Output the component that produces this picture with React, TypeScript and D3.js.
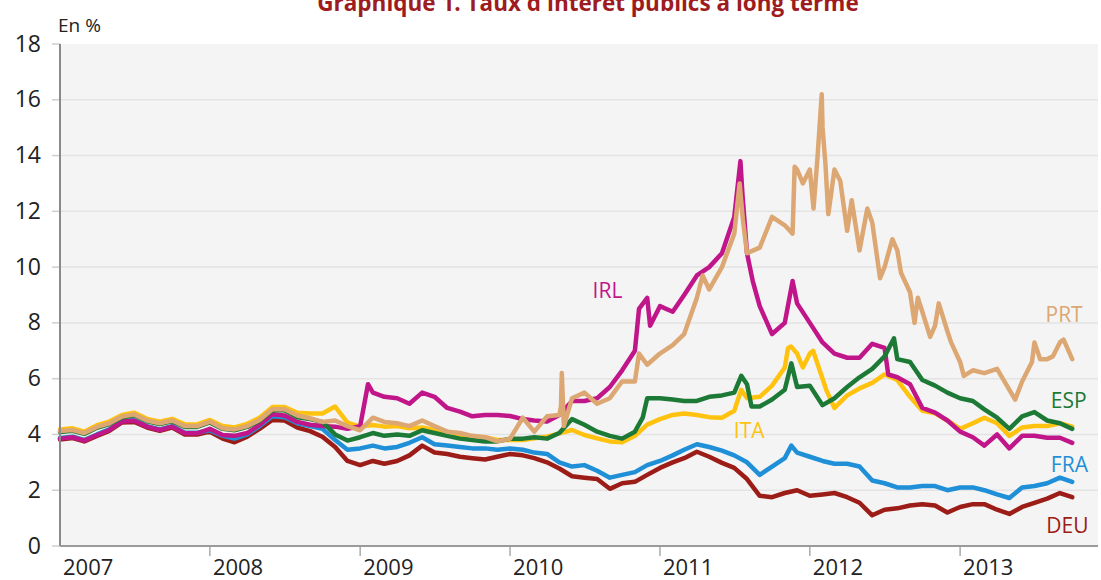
import * as d3 from "d3";

// monthly observation dates (first of the month)
const months = [
  "2007-01", "2007-02", "2007-03", "2007-04", "2007-05", "2007-06", "2007-07", "2007-08", "2007-09", "2007-10", "2007-11", "2007-12",
  "2008-01", "2008-02", "2008-03", "2008-04", "2008-05", "2008-06", "2008-07", "2008-08", "2008-09", "2008-10", "2008-11", "2008-12",
  "2009-01", "2009-02", "2009-03", "2009-04", "2009-05", "2009-06", "2009-07", "2009-08", "2009-09", "2009-10", "2009-11", "2009-12",
  "2010-01", "2010-02", "2010-03", "2010-04", "2010-05", "2010-06", "2010-07", "2010-08", "2010-09", "2010-10", "2010-11", "2010-12",
  "2011-01", "2011-02", "2011-03", "2011-04", "2011-05", "2011-06", "2011-07", "2011-08", "2011-09", "2011-10", "2011-11", "2011-12",
  "2012-01", "2012-02", "2012-03", "2012-04", "2012-05", "2012-06", "2012-07", "2012-08", "2012-09", "2012-10", "2012-11", "2012-12",
  "2013-01", "2013-02", "2013-03", "2013-04", "2013-05", "2013-06", "2013-07", "2013-08", "2013-09", "2013-10",
];

const deu = [
  3.82, 3.87, 3.75, 3.95, 4.13, 4.43, 4.45, 4.25, 4.13, 4.25, 4.0, 4.0,
  4.1, 3.85, 3.72, 3.92, 4.2, 4.52, 4.5, 4.25, 4.12, 3.92, 3.55, 3.05,
  2.9, 3.05, 2.95, 3.05, 3.25, 3.6, 3.35, 3.3, 3.2, 3.15, 3.1, 3.2,
  3.3, 3.25, 3.15, 3.0, 2.78, 2.5, 2.45, 2.4, 2.05, 2.25, 2.3, 2.55,
  2.8, 3.0, 3.15, 3.38, 3.2, 2.98, 2.8, 2.4, 1.8, 1.75, 1.9, 2.0,
  1.8, 1.85, 1.9, 1.75, 1.55, 1.1, 1.3, 1.35, 1.45, 1.5, 1.45, 1.2,
  1.4, 1.5, 1.5, 1.3, 1.15, 1.4, 1.55, 1.7, 1.9, 1.75,
];
const fra = [
  3.87, 3.92, 3.8, 4.0, 4.18, 4.48, 4.51, 4.3, 4.18, 4.3, 4.06, 4.06,
  4.15, 3.95, 3.85, 4.0, 4.3, 4.65, 4.62, 4.4, 4.3, 4.2, 3.8, 3.45,
  3.5, 3.6, 3.5, 3.55, 3.7, 3.9, 3.65, 3.6, 3.55, 3.5, 3.5, 3.45,
  3.5, 3.45, 3.35, 3.3, 3.0, 2.85, 2.9, 2.7, 2.45, 2.55, 2.65, 2.9,
  3.05, 3.25, 3.45, 3.65, 3.55, 3.42, 3.25, 3.0, 2.55, 2.85, 3.15, 3.35,
  3.2, 3.05, 2.95, 2.95, 2.85, 2.35, 2.25, 2.1, 2.1, 2.15, 2.15, 2.0,
  2.1, 2.1, 2.0, 1.85, 1.72, 2.1, 2.15, 2.25, 2.45, 2.3,
];
const ita = [
  4.18, 4.22, 4.1, 4.33, 4.46, 4.7, 4.78, 4.56, 4.46, 4.56, 4.36, 4.36,
  4.52, 4.3, 4.25, 4.38, 4.6, 4.98, 4.98, 4.78, 4.75, 4.75, 5.0, 4.42,
  4.28, 4.34, 4.28, 4.3, 4.22, 4.25, 4.16, 4.1, 3.98, 3.92, 3.9, 3.8,
  3.8, 3.8, 3.86, 3.92, 4.04, 4.16, 3.98, 3.86, 3.75, 3.72, 3.95, 4.35,
  4.55, 4.7, 4.75, 4.7, 4.62, 4.6, 4.85, 5.3, 5.35, 5.75, 6.4, 6.9,
  6.9, 6.0, 4.95, 5.4, 5.65, 5.85, 6.15, 5.95, 5.35, 4.85, 4.76, 4.5,
  4.2, 4.4, 4.6, 4.4, 3.95, 4.25, 4.3, 4.3, 4.4, 4.28,
];
const esp = [
  4.09, 4.13, 4.02, 4.24, 4.37, 4.61, 4.69, 4.47, 4.37, 4.47, 4.27, 4.27,
  4.43, 4.2, 4.15, 4.27, 4.49, 4.87, 4.87, 4.62, 4.55, 4.45, 4.0, 3.78,
  3.9, 4.05, 3.95, 4.0, 3.95, 4.15, 4.05, 3.95, 3.85, 3.8, 3.75, 3.75,
  3.85, 3.85, 3.9, 3.85, 4.05, 4.55, 4.35, 4.1, 3.95, 3.85, 4.1, 5.3,
  5.3, 5.25, 5.2, 5.2, 5.35, 5.4, 5.5, 5.8, 5.0, 5.25, 5.6, 5.7,
  5.75, 5.05, 5.3, 5.7, 6.05, 6.35, 6.8, 6.7, 6.6, 5.95, 5.75, 5.5,
  5.3, 5.2, 4.9, 4.6, 4.2, 4.65, 4.8, 4.5, 4.4, 4.2,
];
const irl = [
  3.85, 3.9, 3.78, 3.98, 4.16, 4.46, 4.49, 4.28, 4.16, 4.28, 4.04, 4.04,
  4.2, 3.98, 3.95, 4.05, 4.35, 4.72, 4.68, 4.45, 4.35, 4.3, 4.28, 4.2,
  4.3, 5.5, 5.35, 5.3, 5.1, 5.5, 5.35, 4.95, 4.82, 4.65, 4.7, 4.7,
  4.66, 4.55, 4.5, 4.46, 4.7, 5.2, 5.2, 5.3, 5.7, 6.3, 7.0, 8.9,
  8.6, 8.4, 9.0, 9.7, 10.0, 10.5, 11.8, 10.5, 8.6, 7.6, 8.0, 8.7,
  8.0, 7.3, 6.9, 6.75, 6.75, 7.25, 7.1, 6.05, 5.8, 4.95, 4.78, 4.5,
  4.1, 3.9, 3.6, 4.0, 3.5, 3.95, 3.95, 3.88, 3.88, 3.7,
];
const prt = [
  4.12, 4.16, 4.05, 4.27, 4.4, 4.64, 4.72, 4.5, 4.4, 4.5, 4.3, 4.3,
  4.46, 4.22, 4.18, 4.3, 4.52, 4.9, 4.9, 4.68, 4.58, 4.45, 4.5, 4.3,
  4.15, 4.6, 4.45, 4.4, 4.3, 4.5, 4.3, 4.1, 4.05, 3.95, 3.9, 3.75,
  3.85, 4.6, 4.1, 4.65, 4.7, 5.3, 5.5, 5.1, 5.3, 5.9, 5.9, 6.5,
  6.9, 7.2, 7.6, 8.9, 9.2, 10.0, 11.2, 10.5, 10.7, 11.8, 11.5, 13.5,
  13.5, 15.0, 13.5, 11.3, 10.6, 11.6, 10.0, 10.6, 9.1, 8.4, 7.9, 7.7,
  6.6, 6.3, 6.2, 6.35, 5.6, 5.9, 7.3, 6.7, 7.3, 6.7,
];

// extra readings between month starts (spikes)
const fraExtra: [string, number][] = [["2011-11-17", 3.6]];
const itaExtra: [string, number][] = [
  ["2011-07-18", 5.6], ["2011-11-09", 7.1], ["2011-11-16", 7.15], ["2011-12-15", 6.4],
  ["2012-01-09", 7.0], ["2012-02-10", 5.6],
];
const espExtra: [string, number][] = [
  ["2010-11-20", 4.6], ["2011-07-18", 6.1], ["2011-08-12", 5.0], ["2011-11-17", 6.55], ["2012-07-24", 7.45],
];
const irlExtra: [string, number][] = [
  ["2009-01-20", 5.8], ["2010-11-11", 8.5], ["2010-12-08", 7.9], ["2011-07-16", 13.8], ["2011-07-21", 12.6],
  ["2011-08-15", 9.5], ["2011-11-20", 9.5], ["2012-07-10", 6.15],
];
const prtExtra: [string, number][] = [
  ["2010-05-05", 5.0], ["2010-05-07", 6.2], ["2010-05-12", 4.3], ["2010-11-11", 6.9], ["2011-04-15", 9.7],
  ["2011-07-14", 13.0], ["2011-07-22", 11.7], ["2011-11-20", 11.2], ["2011-11-25", 13.6], ["2011-12-15", 13.0],
  ["2012-01-10", 12.1], ["2012-01-20", 14.0], ["2012-01-30", 16.2], ["2012-02-08", 13.7], ["2012-02-15", 11.9],
  ["2012-03-15", 13.1], ["2012-04-12", 12.4], ["2012-05-20", 12.1], ["2012-06-20", 9.6], ["2012-07-20", 11.0],
  ["2012-08-10", 9.8], ["2012-09-12", 8.0], ["2012-09-20", 8.9], ["2012-10-20", 7.5], ["2012-11-10", 8.7],
  ["2012-12-10", 7.3], ["2013-01-10", 6.1], ["2013-05-15", 5.25], ["2013-06-25", 6.6], ["2013-07-15", 6.7],
  ["2013-08-15", 6.8], ["2013-09-10", 7.4],
];

const yTicks = [0, 2, 4, 6, 8, 10, 12, 14, 16, 18];
const years = ["2007", "2008", "2009", "2010", "2011", "2012", "2013"];

const parse = d3.timeParse("%Y-%m-%d");

function build(vals: number[], extra: [string, number][]) {
  const pts = months.map((m, i) => ({ date: parse(m + "-01")!, value: vals[i] }));
  extra.forEach(([d, v]) => pts.push({ date: parse(d)!, value: v }));
  pts.sort((a, b) => +a.date - +b.date);
  return pts;
}

// drawing order bottom -> top
const series = [
  { key: "DEU", color: "#9c1c17", data: build(deu, []), label: ["2013-07-30", 0.47] },
  { key: "FRA", color: "#1f8fd7", data: build(fra, fraExtra), label: ["2013-08-10", 2.65] },
  { key: "ITA", color: "#ffc20f", data: build(ita, itaExtra), label: ["2011-06-30", 3.87] },
  { key: "IRL", color: "#c1168a", data: build(irl, irlExtra), label: ["2010-07-21", 8.89] },
  { key: "ESP", color: "#1d7a36", data: build(esp, espExtra), label: ["2013-08-10", 4.95] },
  { key: "PRT", color: "#dca772", data: build(prt, prtExtra), label: ["2013-07-28", 8.03] },
];

const font = "'Open Sans', 'Noto Sans', sans-serif";

export default function App() {
  const left = 60, right = 1098, top = 44, bottom = 546;
  const x = d3.scaleTime()
    .domain([new Date(2007, 0, 1), new Date(2014, 0, 1)])
    .range([left, left + 7 * 150]);
  const y = d3.scaleLinear().domain([0, 18]).range([bottom, top]);

  const line = d3.line<{ date: Date; value: number }>()
    .x(d => x(d.date))
    .y(d => y(d.value));

  return (
    <svg width={1101} height={580} style={{ position: "absolute", left: 0, top: 0, background: "#fff" }}>
      <text x={588} y={11} textAnchor="middle" fontFamily={font} fontWeight="bold" fontSize={22.5} fill="#9e1b20">
        Graphique 1. Taux d'intérêt publics à long terme
      </text>
      <text x={58} y={32} fontFamily={font} fontSize={19} fill="#222">En %</text>

      <rect x={left} y={top} width={right - left} height={bottom - top} fill="#f4f4f4" />

      {yTicks.filter(t => t > 0 && t < 18).map(t => (
        <line key={"g" + t} x1={left} x2={right} y1={y(t)} y2={y(t)} stroke="#e3e3e3" strokeWidth={1.5} />
      ))}
      {yTicks.map(t => (
        <g key={"t" + t}>
          <line x1={52} x2={left} y1={y(t)} y2={y(t)} stroke="#cfcfcf" strokeWidth={1.5} />
          <text x={41} y={y(t) + 7.5} textAnchor="end" fontFamily={font} fontSize={23} fill="#222">{t}</text>
        </g>
      ))}

      {years.map(yr => {
        const xx = x(new Date(+yr, 0, 1));
        return (
          <g key={yr}>
            {yr !== "2007" && <line x1={xx} x2={xx} y1={bottom} y2={556} stroke="#aaa" strokeWidth={1.5} />}
            <text x={xx + 3} y={575} fontFamily={font} fontSize={22} fill="#222">{yr}</text>
          </g>
        );
      })}

      {series.map(s => (
        <path key={s.key} d={line(s.data) ?? ""} fill="none" stroke={s.color} strokeWidth={4.5}
          strokeLinejoin="round" strokeLinecap="round" />
      ))}

      <line x1={left} x2={left} y1={top} y2={bottom} stroke="#8a8a8a" strokeWidth={2} />
      <line x1={left} x2={right} y1={bottom} y2={bottom} stroke="#9a9a9a" strokeWidth={2} />

      {series.map(s => (
        <text key={"l" + s.key} x={x(parse(s.label[0] as string)!)} y={y(s.label[1] as number)}
          fontFamily={font} fontSize={21} fill={s.color}>{s.key}</text>
      ))}
    </svg>
  );
}
